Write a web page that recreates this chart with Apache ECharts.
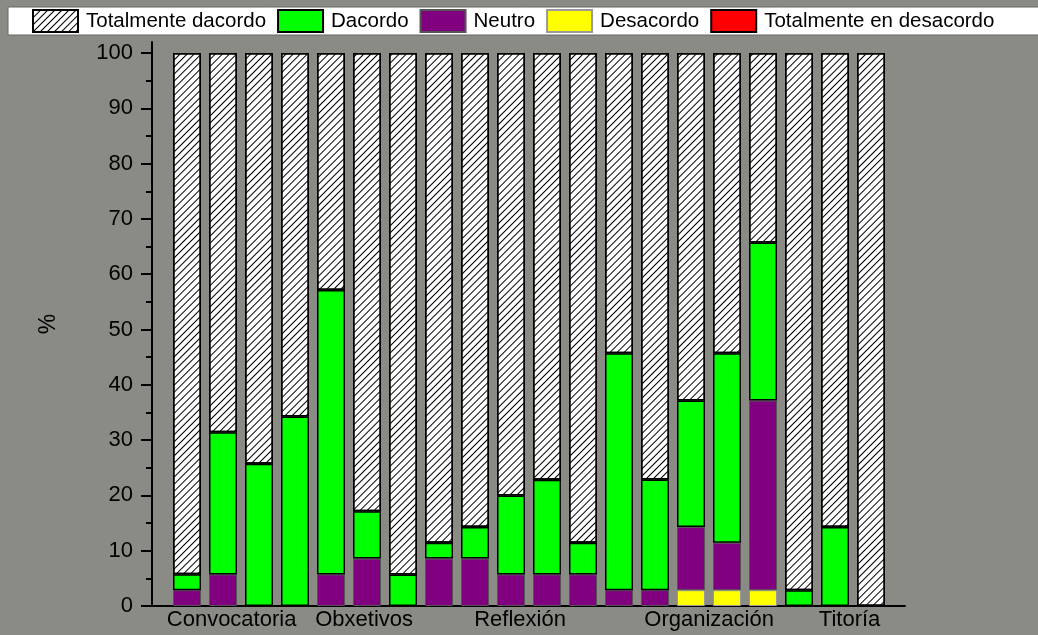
<!DOCTYPE html>
<html>
<head>
<meta charset="utf-8">
<script src="https://cdn.jsdelivr.net/npm/echarts@6/dist/echarts.min.js"></script>
<style>
html,body{margin:0;padding:0;background:#8b8b85;}
#c{width:1038px;height:635px;}
</style>
</head>
<body>
<div id="c"></div>
<script>
const categories = ['1','2','3','4','5','6','7','8','9','10','11','12','13','14','15','16','17','18','19','20'];
const totalmenteEnDesacordo = [0,0,0,0,0,0,0,0,0,0,0,0,0,0,0,0,0,0,0,0];
const desacordo = [0,0,0,0,0,0,0,0,0,0,0,0,0,0,2.86,2.86,2.86,0,0,0];
const neutro = [2.86,5.71,0,0,5.71,8.57,0,8.57,8.57,5.71,5.71,5.71,2.86,2.86,11.43,8.57,34.29,0,0,0];
const dacordo = [2.86,25.71,25.71,34.29,51.43,8.57,5.71,2.86,5.71,14.29,17.14,5.71,42.86,20.00,22.86,34.29,28.57,2.86,14.29,0];
const totalmenteDacordo = [94.29,68.57,74.29,65.71,42.86,82.86,94.29,88.57,85.71,80.00,77.14,88.57,54.29,77.14,62.86,54.29,34.29,97.14,85.71,100];

const groupNames = ['Convocatoria','Obxetivos','Reflexión','Organización','Titoría'];
const groupPositions = [1.24,4.92,9.25,14.5,18.4];
const yMajorTicks = [0,10,20,30,40,50,60,70,80,90,100];
const yMinorTicks = [5,15,25,35,45,55,65,75,85,95];

const FONT = 'Liberation Sans, Arial, sans-serif';

function vals(arr){ return arr.map(v => v === 0 ? '-' : v); }

const hatch = {
  symbol: 'rect', symbolSize: 1, color: '#000',
  dashArrayX: [1, 0], dashArrayY: [1, 4], rotation: -Math.PI / 4
};

const chart = echarts.init(document.getElementById('c'));
chart.setOption({
  backgroundColor: '#8b8b85',
  animation: false,
  legend: {
    left: 8, top: 7, width: 1010,
    padding: [2, 47, 2, 24],
    backgroundColor: '#fff',
    borderColor: '#666',
    borderWidth: 1,
    borderRadius: 0,
    itemWidth: 45, itemHeight: 22, itemGap: 11,
    icon: 'rect',
    textStyle: { fontFamily: FONT, fontSize: 20.5, color: '#000', padding: [0,0,0,3] },
    data: ['Totalmente dacordo','Dacordo','Neutro','Desacordo','Totalmente en desacordo']
  },
  grid: [
    { left: 169, right: 149, top: 42, bottom: 29 },
    { left: 152, right: 133, top: 42, bottom: 29 }
  ],
  xAxis: [{
    type: 'category', gridIndex: 0, data: categories, boundaryGap: true,
    axisLine: { show: false }, axisTick: { show: false }, axisLabel: { show: false }, splitLine: { show: false }
  }, {
    type: 'value', gridIndex: 1, min: -0.97, max: 19.94,
    splitLine: { show: false },
    axisLine: { show: true, onZero: false, lineStyle: { color: '#000', width: 2 } },
    axisTick: { show: false },
    axisLabel: {
      customValues: groupPositions,
      formatter: function(v){ const i = groupPositions.indexOf(v); return i >= 0 ? groupNames[i] : ''; },
      fontFamily: FONT, fontSize: 22, color: '#000', margin: 3
    }
  }],
  yAxis: [{
    type: 'value', gridIndex: 0, min: 0, max: 102,
    axisLine: { show: false }, axisTick: { show: false }, axisLabel: { show: false }, splitLine: { show: false }
  }, {
    type: 'value', gridIndex: 1, min: 0, max: 102, position: 'left',
    name: '%', nameLocation: 'middle', nameGap: 92, nameRotate: 90,
    nameTextStyle: { fontFamily: FONT, fontSize: 23, color: '#000' },
    splitLine: { show: false },
    axisLine: { show: true, onZero: false, lineStyle: { color: '#000', width: 2 } },
    axisTick: { show: false },
    axisLabel: { customValues: yMajorTicks, fontFamily: FONT, fontSize: 22, color: '#000', margin: 19 }
  }, {
    type: 'value', gridIndex: 1, min: 0, max: 102, position: 'left', offset: 0,
    splitLine: { show: false }, axisLine: { show: false, onZero: false }, axisLabel: { show: false },
    axisTick: { show: true, customValues: yMajorTicks, length: 11, lineStyle: { color: '#000', width: 2 } }
  }, {
    type: 'value', gridIndex: 1, min: 0, max: 102, position: 'left', offset: 0,
    splitLine: { show: false }, axisLine: { show: false, onZero: false }, axisLabel: { show: false },
    axisTick: { show: true, customValues: yMinorTicks, length: 6, lineStyle: { color: '#000', width: 2 } }
  }],
  series: [
    { name: 'Totalmente en desacordo', type: 'bar', stack: 's', barWidth: 28, data: vals(totalmenteEnDesacordo),
      itemStyle: { color: '#ff0000', borderColor: '#000', borderWidth: 1.5 } },
    { name: 'Desacordo', type: 'bar', stack: 's', barWidth: 28, data: vals(desacordo),
      itemStyle: { color: '#ffff00', borderColor: '#999', borderWidth: 1 } },
    { name: 'Neutro', type: 'bar', stack: 's', barWidth: 28, data: vals(neutro),
      itemStyle: { color: '#800080', borderColor: '#555', borderWidth: 1 } },
    { name: 'Dacordo', type: 'bar', stack: 's', barWidth: 28, data: vals(dacordo),
      itemStyle: { color: '#00ff00', borderColor: '#000', borderWidth: 1.5 } },
    { name: 'Totalmente dacordo', type: 'bar', stack: 's', barWidth: 28, data: vals(totalmenteDacordo),
      itemStyle: { color: '#fff', borderColor: '#000', borderWidth: 1.5, decal: hatch } }
  ]
});
</script>
</body>
</html>
